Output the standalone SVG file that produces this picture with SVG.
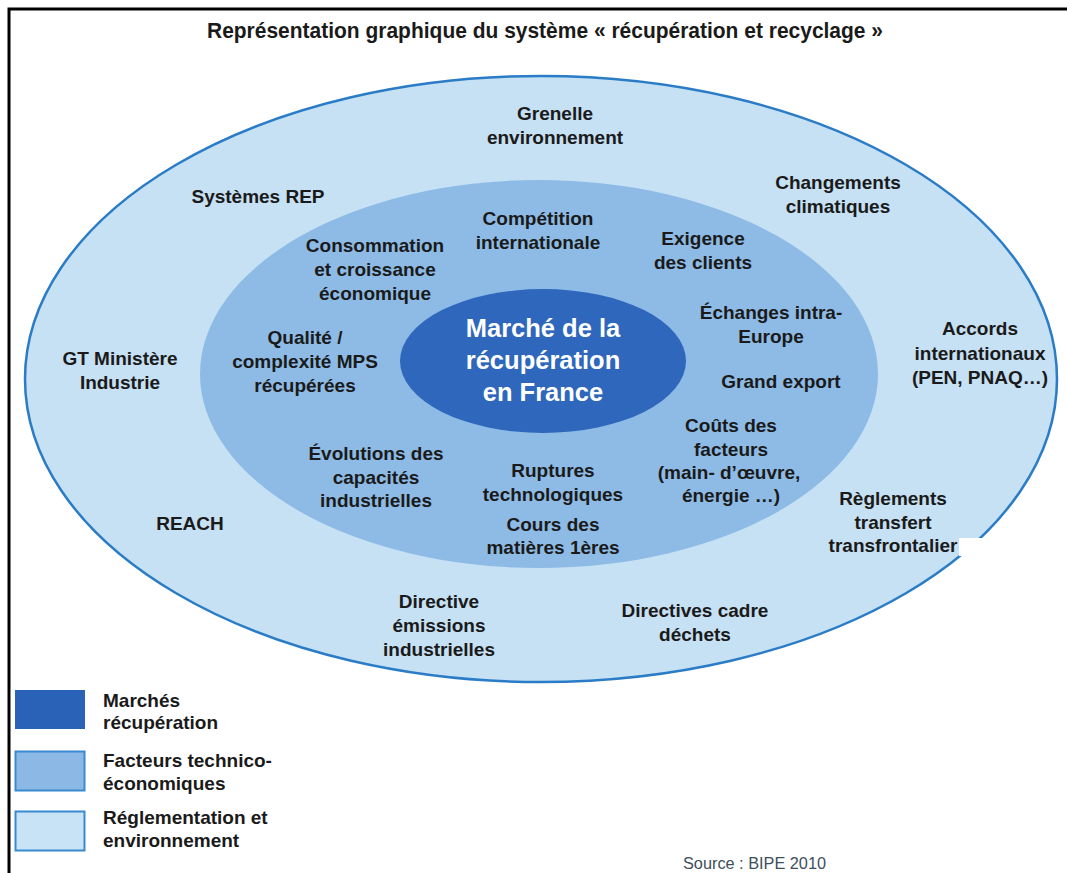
<svg xmlns="http://www.w3.org/2000/svg" width="1067" height="873" viewBox="0 0 1067 873">
<style>
.t{font-family:"Liberation Sans",Arial,sans-serif;font-weight:bold;font-size:19px;fill:#1a1a1a;text-anchor:middle}
.l{font-family:"Liberation Sans",Arial,sans-serif;font-weight:bold;font-size:19px;fill:#1a1a1a}
.c{font-family:"Liberation Sans",Arial,sans-serif;font-weight:bold;font-size:25.5px;fill:#ffffff;text-anchor:middle}
</style>
<rect width="1067" height="873" fill="#ffffff"/>
<path d="M9 873 V9 H1067" fill="none" stroke="#000" stroke-width="3"/>
<text x="545" y="38" font-family="'Liberation Sans Narrow','Liberation Sans',Arial,sans-serif" font-weight="bold" font-size="22" fill="#1a1a1a" text-anchor="middle" textLength="676" lengthAdjust="spacingAndGlyphs">Représentation graphique du système « récupération et recyclage »</text>

<g id="outer">
<ellipse cx="541" cy="379" rx="516" ry="303" fill="#c6e0f4" stroke="#2a7cc6" stroke-width="2.5"/>
</g>
<g id="middle">
<ellipse cx="539" cy="374" rx="339" ry="194" fill="#8dbbe6"/>
</g>
<g id="inner">
<ellipse cx="543" cy="361" rx="143" ry="72" fill="#2e67bb"/>
<text class="c" x="543" y="337">Marché de la</text>
<text class="c" x="543" y="369">récupération</text>
<text class="c" x="543" y="401">en France</text>
</g>
<rect x="959" y="538" width="108" height="18" fill="#ffffff"/>

<g id="labels">
<g id="n-grenelle"><text class="t" x="555" y="120">Grenelle</text><text class="t" x="555" y="144">environnement</text></g>
<g id="n-rep"><text class="t" x="258" y="203">Systèmes REP</text></g>
<g id="n-climat"><text class="t" x="838" y="189">Changements</text><text class="t" x="838" y="213">climatiques</text></g>
<g id="n-competition"><text class="t" x="538" y="225">Compétition</text><text class="t" x="538" y="249">internationale</text></g>
<g id="n-conso"><text class="t" x="375" y="252">Consommation</text><text class="t" x="375" y="276">et croissance</text><text class="t" x="375" y="300">économique</text></g>
<g id="n-exigence"><text class="t" x="703" y="245">Exigence</text><text class="t" x="703" y="269">des clients</text></g>
<g id="n-echanges"><text class="t" x="771" y="319">Échanges intra-</text><text class="t" x="771" y="343">Europe</text></g>
<g id="n-qualite"><text class="t" x="305" y="344">Qualité /</text><text class="t" x="305" y="368">complexité MPS</text><text class="t" x="305" y="392">récupérées</text></g>
<g id="n-gt"><text class="t" x="120" y="365">GT Ministère</text><text class="t" x="120" y="389">Industrie</text></g>
<g id="n-accords"><text class="t" x="980" y="335">Accords</text><text class="t" x="980" y="360">internationaux</text><text class="t" x="980" y="384">(PEN, PNAQ…)</text></g>
<g id="n-export"><text class="t" x="781" y="388">Grand export</text></g>
<g id="n-couts"><text class="t" x="731" y="432">Coûts des</text><text class="t" x="731" y="456">facteurs</text><text class="t" x="729" y="479">(main- d’œuvre,</text><text class="t" x="731" y="502">énergie …)</text></g>
<g id="n-evolutions"><text class="t" x="376" y="460">Évolutions des</text><text class="t" x="376" y="484">capacités</text><text class="t" x="376" y="507">industrielles</text></g>
<g id="n-ruptures"><text class="t" x="553" y="477">Ruptures</text><text class="t" x="553" y="501">technologiques</text></g>
<g id="n-cours"><text class="t" x="553" y="531">Cours des</text><text class="t" x="553" y="554">matières 1ères</text></g>
<g id="n-reglements"><text class="t" x="893" y="505">Règlements</text><text class="t" x="893" y="529">transfert</text><text class="t" x="893" y="552">transfrontalier</text></g>
<g id="n-reach"><text class="t" x="190" y="530">REACH</text></g>
<g id="n-directive"><text class="t" x="439" y="608">Directive</text><text class="t" x="439" y="632">émissions</text><text class="t" x="439" y="656">industrielles</text></g>
<g id="n-dechets"><text class="t" x="695" y="617">Directives cadre</text><text class="t" x="695" y="641">déchets</text></g>
</g>

<g id="legend">
<rect x="15" y="690" width="70" height="39" fill="#2a62b8"/>
<rect x="15.5" y="751.5" width="69" height="39" fill="#8bb8e4" stroke="#3a8ad0" stroke-width="2"/>
<rect x="15.5" y="811.5" width="69" height="39" fill="#c8e3f5" stroke="#3a8ad0" stroke-width="2"/>
<text class="l" x="103" y="707">Marchés</text>
<text class="l" x="103" y="729">récupération</text>
<text class="l" x="103" y="767">Facteurs technico-</text>
<text class="l" x="103" y="790">économiques</text>
<text class="l" x="103" y="824">Réglementation et</text>
<text class="l" x="103" y="847">environnement</text>
</g>
<text x="683" y="869" font-family="'Liberation Sans Narrow','Liberation Sans',Arial,sans-serif" font-size="16" fill="#3d4f5c" textLength="143" lengthAdjust="spacingAndGlyphs">Source : BIPE 2010</text>
</svg>
